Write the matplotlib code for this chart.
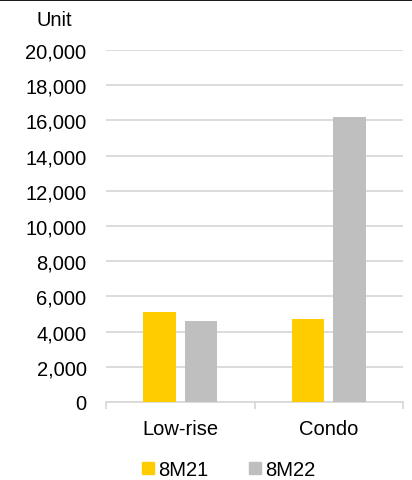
import numpy as np
import matplotlib.pyplot as plt
from matplotlib.lines import Line2D

plt.rcParams['font.family'] = ['Liberation Sans', 'DejaVu Sans']

categories = ['Low-rise', 'Condo']
series = ['8M21', '8M22']
values_8m21 = [5100, 4700]
values_8m22 = [4600, 16200]
colors = ['#FFCC00', '#BFBFBF']

fs = 14.5

fig = plt.figure(figsize=(4.12, 4.81), dpi=100)
ax = fig.add_axes([106 / 412, 1 - 403 / 481, (403 - 106) / 412, (403 - 51) / 481])

x = np.arange(len(categories))
w = 0.22
ax.bar(x - 0.14, values_8m21, w, color=colors[0], label=series[0], zorder=3)
ax.bar(x + 0.14, values_8m22, w, color=colors[1], label=series[1], zorder=3)

ax.set_xlim(-0.5, 1.5)
ax.set_ylim(0, 20000)
ax.set_yticks(np.arange(0, 20001, 2000))
ax.set_yticklabels([f'{v:,}' for v in range(0, 20001, 2000)], fontsize=fs)
ax.yaxis.grid(True, color='#D9D9D9', linewidth=1.3, zorder=0)
ax.tick_params(axis='y', length=0, pad=14)

ax.set_xticks(x)
ax.set_xticklabels(categories, fontsize=fs)
ax.tick_params(axis='x', length=0, pad=12)
ax.set_xticks([-0.5, 0.5, 1.5], minor=True)
ax.tick_params(axis='x', which='minor', length=5, color='#D9D9D9', width=1.3)

for s in ['top', 'right', 'left']:
    ax.spines[s].set_visible(False)
ax.spines['bottom'].set_color('#D9D9D9')
ax.spines['bottom'].set_linewidth(1.3)

fig.text(37 / 412, 1 - 20 / 481, 'Unit', fontsize=fs, va='center', ha='left')

handles = [Line2D([], [], marker='s', linestyle='none', markersize=8,
                  markerfacecolor=c, markeredgecolor=c) for c in colors]
fig.legend(handles, series, loc='center left', bbox_to_anchor=(132 / 412, 1 - 471 / 481),
           ncol=2, frameon=False, fontsize=fs, handletextpad=0.2, borderpad=0,
           columnspacing=2.0, handlelength=0.6)

fig.add_artist(Line2D([0, 1], [0.999, 0.999], color='black', linewidth=2,
                      transform=fig.transFigure))

fig.savefig('out.png', dpi=100)
